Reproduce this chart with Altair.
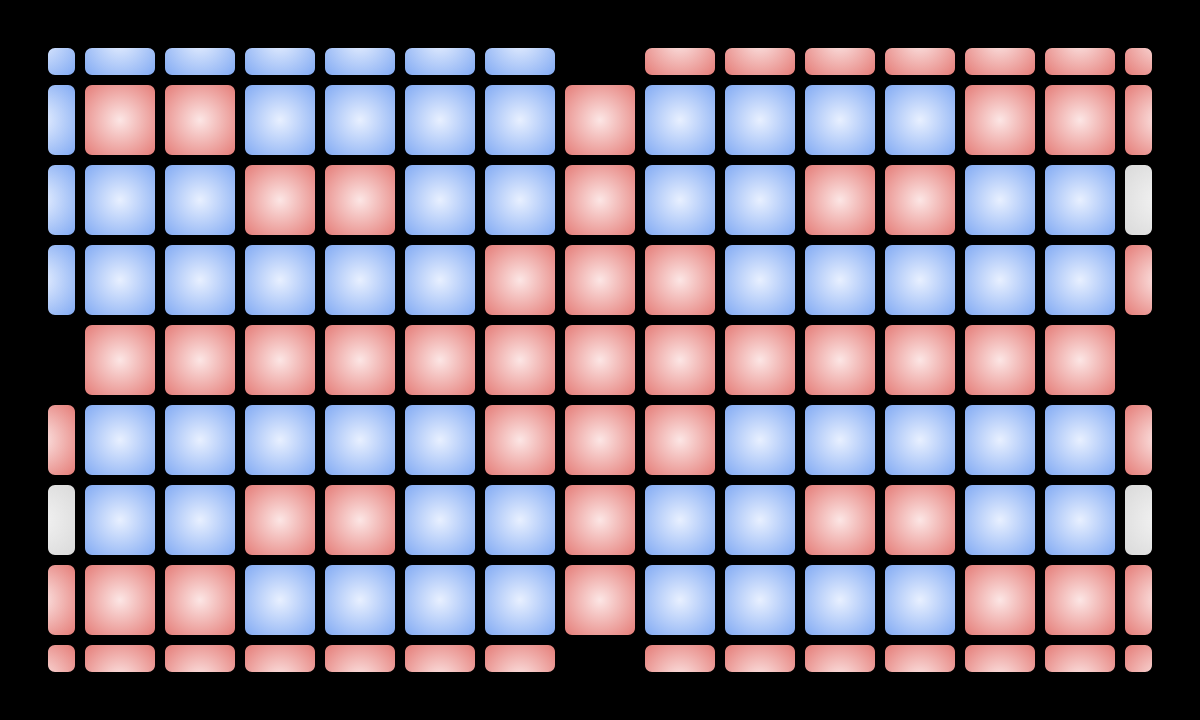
import altair as alt
import pandas as pd

# grid of cell states (B = blue, R = red, G = grey, . = empty)
grid_rows = [
    "BBBBBBB.RRRRRRR",
    "BRRBBBBRBBBBRRR",
    "BBBRRBBRBBRRBBG",
    "BBBBBBRRRBBBBBR",
    ".RRRRRRRRRRRRR.",
    "RBBBBBRRRBBBBBR",
    "GBBRRBBRBBRRBBG",
    "RRRBBBBRBBBBRRR",
    "RRRRRRR.RRRRRRR",
]
state_codes = ["B", "R", "G"]
center_colors = ["#e8f0ff", "#fce6e5", "#f3f3f3"]
edge_colors = ["#80a9f3", "#e47a75", "#d9d9d9"]

n_rows = len(grid_rows)
n_cols = len(grid_rows[0])

# scale geometry (cell units): cell k spans k-HALF .. k+HALF
HALF = 0.4375
X_DOMAIN = [0.1, n_cols - 1 - 0.1]
Y_DOMAIN = [0.1, n_rows - 1 - 0.1]
R_FULL = 0.72

records = []
for r, line in enumerate(grid_rows):
    for c, ch in enumerate(line):
        if ch != ".":
            records.append({"col": c, "row": r, "state": ch})
df = pd.DataFrame(records)


def group_of(c, r):
    gx = "L" if c == 0 else ("R" if c == n_cols - 1 else "M")
    gy = "T" if r == 0 else ("B" if r == n_rows - 1 else "M")
    return gx + gy


df["grp"] = [group_of(c, r) for c, r in zip(df["col"], df["row"])]
full = 2 * HALF


def grad_params(gx, gy):
    # Vega draws radial gradients in a square covering the box; place the
    # gradient centre at the centre of the full (unclipped) cell.
    wx = full if gx == "M" else HALF - X_DOMAIN[0]
    wy = full if gy == "M" else HALF - Y_DOMAIN[0]
    side = max(wx, wy)
    dx = 0.0
    if gx != "M":
        box_c = (X_DOMAIN[0] + HALF) / 2.0
        dx = -box_c if gx == "L" else box_c
    dy = 0.0
    if gy != "M":
        box_c = (Y_DOMAIN[0] + HALF) / 2.0
        dy = -box_c if gy == "T" else box_c
    return 0.5 + dx / side, 0.5 + dy / side, R_FULL * full / side


layers = []
for grp in sorted(df["grp"].unique()):
    cx, cy, rr = grad_params(grp[0], grp[1])
    for i, code in enumerate(state_codes):
        sub = df[(df["grp"] == grp) & (df["state"] == code)]
        if sub.empty:
            continue
        grad = alt.RadialGradient(
            gradient="radial",
            x1=cx, y1=cy, r1=0,
            x2=cx, y2=cy, r2=rr,
            stops=[
                alt.GradientStop(color=center_colors[i], offset=0),
                alt.GradientStop(color=edge_colors[i], offset=1),
            ],
        )
        layer = (
            alt.Chart(sub)
            .transform_calculate(
                x0=f"max(datum.col - {HALF}, {X_DOMAIN[0]})",
                x1=f"min(datum.col + {HALF}, {X_DOMAIN[1]})",
                y0=f"max(datum.row - {HALF}, {Y_DOMAIN[0]})",
                y1=f"min(datum.row + {HALF}, {Y_DOMAIN[1]})",
            )
            .mark_rect(fill=grad, cornerRadius=7)
            .encode(
                x=alt.X("x0:Q", axis=None,
                        scale=alt.Scale(domain=X_DOMAIN, nice=False, zero=False)),
                x2="x1:Q",
                y=alt.Y("y0:Q", axis=None,
                        scale=alt.Scale(domain=Y_DOMAIN, nice=False, zero=False, reverse=True)),
                y2="y1:Q",
            )
        )
        layers.append(layer)

chart = (
    alt.layer(*layers)
    .properties(width=1104, height=624, background="black", padding=48,
                autosize=alt.AutoSizeParams(type="none"))
    .configure_view(stroke=None)
)
chart.save("out.html", embed_options={"renderer": "svg", "actions": False})
